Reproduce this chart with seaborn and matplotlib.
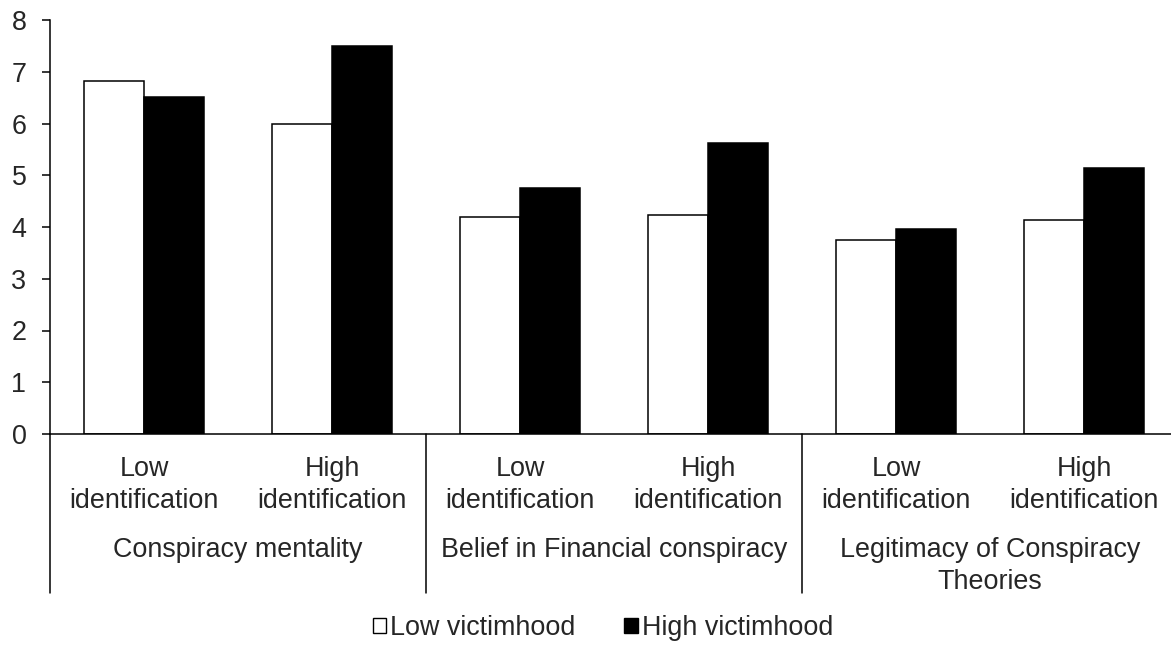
import matplotlib
matplotlib.use("Agg")
import matplotlib.pyplot as plt
import matplotlib.transforms as mtransforms
import seaborn as sns
import pandas as pd

# ---- data ----
measures = ["Conspiracy mentality", "Belief in Financial conspiracy",
            "Legitimacy of Conspiracy\nTheories"]
identification = ["Low\nidentification", "High\nidentification"]
series_names = ["Low victimhood", "High victimhood"]
low_victimhood = [6.82, 6.00, 4.20, 4.23, 3.75, 4.14]
high_victimhood = [6.52, 7.50, 4.75, 5.62, 3.97, 5.14]
y_ticks = [0, 1, 2, 3, 4, 5, 6, 7, 8]

conditions = [f"{m}|{i}" for m in measures for i in identification]
tick_labels = [i for m in measures for i in identification]

df = pd.DataFrame({
    "condition": conditions * 2,
    "victimhood": [series_names[0]] * 6 + [series_names[1]] * 6,
    "value": low_victimhood + high_victimhood,
})

sns.set_style("white")
plt.rcParams["font.family"] = ["Liberation Sans", "DejaVu Sans"]
FS = 19.4
LS = 1.28

fig = plt.figure(figsize=(11.71, 6.48), dpi=100)
W, H = 1171, 648
ax = fig.add_axes([50 / W, 1 - 434 / H, 1128 / W, 414 / H])

sns.barplot(data=df, x="condition", y="value", hue="victimhood",
            order=conditions, hue_order=series_names,
            palette=["white", "black"], edgecolor="black", linewidth=1.1,
            width=0.64, gap=0, ax=ax, errorbar=None, saturation=1)

ax.set_xlim(-0.5, 5.5)
ax.set_ylim(0, 8)
ax.set_yticks(y_ticks)
ax.set_xticks(range(6))
ax.set_xticklabels(tick_labels, fontsize=FS, linespacing=LS)
ax.set_xlabel("")
ax.set_ylabel("")
ax.tick_params(axis="x", length=0, pad=16)
ax.tick_params(axis="y", direction="out", length=6, width=1.1, color="black",
               labelsize=FS, pad=11, left=True)
for s in ["top", "right"]:
    ax.spines[s].set_visible(False)
for s in ["left", "bottom"]:
    ax.spines[s].set_color("black")
    ax.spines[s].set_linewidth(1.1)

trans = mtransforms.blended_transform_factory(ax.transData, ax.transAxes)
ax_h = 414
for xs in [-0.5, 1.5, 3.5]:
    ax.plot([xs, xs], [0, -(593 - 434) / ax_h], transform=trans,
            color="black", lw=1.1, clip_on=False)

for k, m in enumerate(measures):
    ax.text(2 * k + 0.5, -(537 - 434) / ax_h, m, transform=trans,
            ha="center", va="top", fontsize=FS, linespacing=LS)

sns.move_legend(ax, loc="center", bbox_to_anchor=(603 / W, 1 - 628 / H),
                bbox_transform=fig.transFigure, ncol=2, frameon=False,
                title=None, fontsize=FS, handlelength=0.5, handleheight=0.5,
                handletextpad=0.15, columnspacing=1.8)
leg = ax.get_legend()
for h in leg.legend_handles:
    h.set_edgecolor("black")
    h.set_linewidth(1.0)

fig.savefig("out.png", dpi=100)
